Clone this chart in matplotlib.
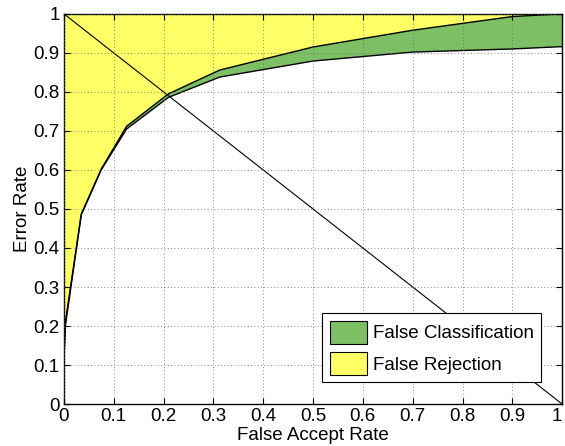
import matplotlib
matplotlib.use('Agg')
import matplotlib.pyplot as plt
import numpy as np

plt.rcParams['font.family'] = ['Liberation Sans', 'DejaVu Sans']

# false accept rate (x) and the two error curves
far = [0.0, 0.003, 0.035, 0.075, 0.126, 0.21, 0.313, 0.5, 0.7, 0.9, 1.0]
err_lower = [0.11, 0.20, 0.485, 0.600, 0.705, 0.786, 0.838, 0.879, 0.902, 0.910, 0.916]
err_upper = [0.11, 0.21, 0.487, 0.602, 0.712, 0.795, 0.856, 0.915, 0.958, 0.993, 1.0]

labels = ['False Classification', 'False Rejection']
colors = ['#7dbf64', '#ffff66']

ticks = np.arange(0, 1.01, 0.1)
tick_labels = ['0', '0.1', '0.2', '0.3', '0.4', '0.5', '0.6', '0.7', '0.8', '0.9', '1']

fig = plt.figure(figsize=(5.65, 4.46), dpi=100)
ax = fig.add_axes([0.113, 0.094, 0.882, 0.875])

x = np.array(far)
lo = np.array(err_lower)
up = np.array(err_upper)
top = np.ones_like(x)

ax.fill_between(x, lo, up, facecolor=colors[0], edgecolor='none', label=labels[0])
ax.fill_between(x, up, top, facecolor=colors[1], edgecolor='none', label=labels[1])
ax.plot(x, lo, color='black', lw=1.0)
ax.plot(x, up, color='black', lw=1.0)

# equal error rate line
ax.plot([0, 1], [1, 0], color='black', lw=0.8)

ax.set_xlim(0, 1)
ax.set_ylim(0, 1)
ax.set_xticks(ticks)
ax.set_yticks(ticks)
ax.set_xticklabels(tick_labels, fontsize=13.5)
ax.set_yticklabels(tick_labels, fontsize=13.5)
# keep the last x label inside the figure
ax.get_xticklabels()[-1].set_horizontalalignment('right')
ax.tick_params(axis='x', direction='in', top=True, length=4, width=0.8, pad=3)
ax.tick_params(axis='y', direction='in', right=True, length=4, width=0.8, pad=3)
ax.grid(True, linestyle=(0, (1, 3)), color='#666666', lw=0.6)
ax.set_axisbelow(False)
for s in ax.spines.values():
    s.set_linewidth(1.0)

ax.set_xlabel('False Accept Rate', fontsize=13.5, labelpad=1)
ax.set_ylabel('Error Rate', fontsize=13.5, labelpad=2)

leg = ax.legend(loc='upper right', bbox_to_anchor=(0.958, 0.233),
                fontsize=13.5, fancybox=False, framealpha=1,
                edgecolor='black', handlelength=2.0, handleheight=1.5,
                borderpad=0.4, labelspacing=0.45, handletextpad=0.3,
                borderaxespad=0)
leg.get_frame().set_linewidth(0.8)
for h in leg.legend_handles:
    h.set_edgecolor('black')
    h.set_linewidth(0.8)

plt.savefig('out.png', dpi=100)
